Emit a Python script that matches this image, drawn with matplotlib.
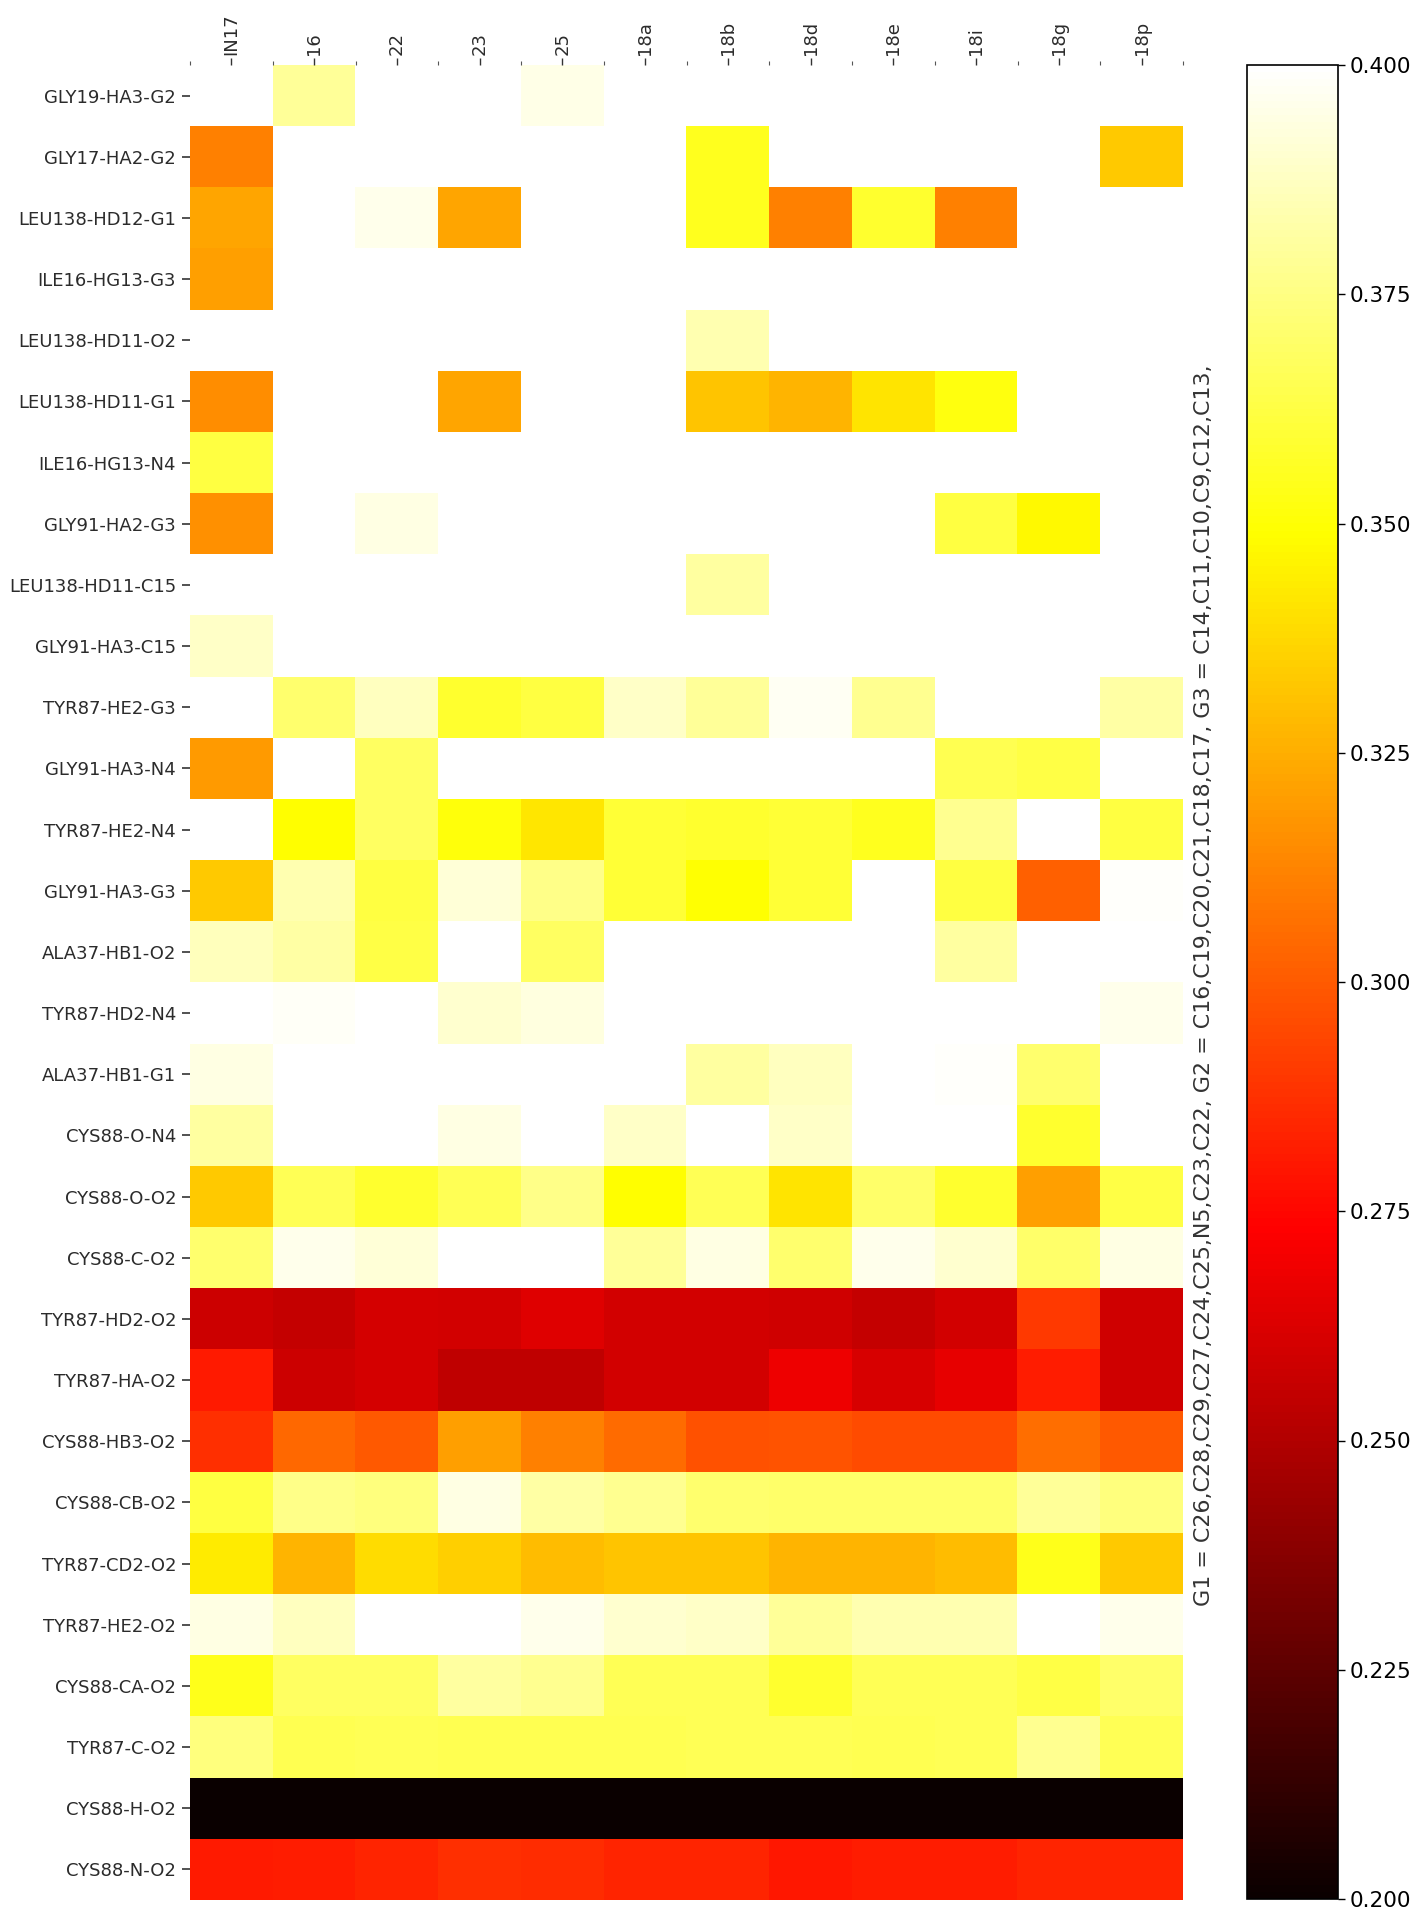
import numpy as np
import matplotlib
matplotlib.use('Agg')
import matplotlib.pyplot as plt

nan = np.nan

columns = ['IN17', '16', '22', '23', '25', '18a', '18b', '18d', '18e', '18i', '18g', '18p']
rows = ['GLY19-HA3-G2', 'GLY17-HA2-G2', 'LEU138-HD12-G1', 'ILE16-HG13-G3', 'LEU138-HD11-O2',
        'LEU138-HD11-G1', 'ILE16-HG13-N4', 'GLY91-HA2-G3', 'LEU138-HD11-C15', 'GLY91-HA3-C15',
        'TYR87-HE2-G3', 'GLY91-HA3-N4', 'TYR87-HE2-N4', 'GLY91-HA3-G3', 'ALA37-HB1-O2',
        'TYR87-HD2-N4', 'ALA37-HB1-G1', 'CYS88-O-N4', 'CYS88-O-O2', 'CYS88-C-O2',
        'TYR87-HD2-O2', 'TYR87-HA-O2', 'CYS88-HB3-O2', 'CYS88-CB-O2', 'TYR87-CD2-O2',
        'TYR87-HE2-O2', 'CYS88-CA-O2', 'TYR87-C-O2', 'CYS88-H-O2', 'CYS88-N-O2']

# one list per row, columns in the order above (nan = no contact)
gly19_ha3_g2 = [nan, 0.379, nan, nan, 0.395, nan, nan, nan, nan, nan, nan, nan]
gly17_ha2_g2 = [0.311, nan, nan, nan, nan, nan, 0.355, nan, nan, nan, nan, 0.333]
leu138_hd12_g1 = [0.322, nan, 0.396, 0.322, nan, nan, 0.355, 0.311, 0.358, 0.311, nan, nan]
ile16_hg13_g3 = [0.321, nan, nan, nan, nan, nan, nan, nan, nan, nan, nan, nan]
leu138_hd11_o2 = [nan, nan, nan, nan, nan, nan, 0.384, nan, nan, nan, nan, nan]
leu138_hd11_g1 = [0.315, nan, nan, 0.322, nan, nan, 0.332, 0.327, 0.341, 0.352, nan, nan]
ile16_hg13_n4 = [0.362, nan, nan, nan, nan, nan, nan, nan, nan, nan, nan, nan]
gly91_ha2_g3 = [0.316, nan, 0.394, nan, nan, nan, nan, nan, nan, 0.362, 0.347, nan]
leu138_hd11_c15 = [nan, nan, nan, nan, nan, nan, 0.381, nan, nan, nan, nan, nan]
gly91_ha3_c15 = [0.389, nan, nan, nan, nan, nan, nan, nan, nan, nan, nan, nan]
tyr87_he2_g3 = [nan, 0.371, 0.387, 0.358, 0.362, 0.389, 0.379, 0.397, 0.378, nan, nan, 0.382]
gly91_ha3_n4 = [0.319, nan, 0.368, nan, nan, nan, nan, nan, nan, 0.365, 0.363, nan]
tyr87_he2_n4 = [nan, 0.349, 0.368, 0.351, 0.342, 0.360, 0.358, 0.360, 0.355, 0.378, nan, 0.362]
gly91_ha3_g3 = [0.333, 0.384, 0.362, 0.392, 0.376, 0.360, 0.350, 0.360, nan, 0.362, 0.302, 0.399]
ala37_hb1_o2 = [0.386, 0.382, 0.363, nan, 0.368, nan, nan, nan, nan, 0.381, nan, nan]
tyr87_hd2_n4 = [nan, 0.398, nan, 0.390, 0.393, nan, nan, nan, nan, nan, nan, 0.396]
ala37_hb1_g1 = [0.394, nan, nan, nan, nan, nan, 0.381, 0.387, nan, 0.399, 0.371, nan]
cys88_o_n4 = [0.381, nan, nan, 0.394, nan, 0.389, nan, 0.389, nan, nan, 0.358, nan]
cys88_o_o2 = [0.333, 0.366, 0.358, 0.366, 0.376, 0.349, 0.366, 0.341, 0.370, 0.358, 0.321, 0.363]
cys88_c_o2 = [0.371, 0.396, 0.392, nan, nan, 0.379, 0.394, 0.371, 0.396, 0.390, 0.370, 0.394]
tyr87_hd2_o2 = [0.258, 0.256, 0.2605, 0.260, 0.264, 0.2595, 0.260, 0.259, 0.256, 0.2595, 0.290, 0.259]
tyr87_ha_o2 = [0.281, 0.258, 0.2605, 0.254, 0.254, 0.260, 0.2595, 0.268, 0.261, 0.266, 0.282, 0.259]
cys88_hb3_o2 = [0.287, 0.304, 0.300, 0.321, 0.311, 0.305, 0.297, 0.298, 0.296, 0.296, 0.306, 0.300]
cys88_cb_o2 = [0.362, 0.376, 0.374, 0.394, 0.382, 0.378, 0.371, 0.370, 0.370, 0.370, 0.379, 0.374]
tyr87_cd2_o2 = [0.3435, 0.327, 0.339, 0.335, 0.329, 0.332, 0.332, 0.327, 0.327, 0.329, 0.354, 0.333]
tyr87_he2_o2 = [0.394, 0.387, nan, nan, 0.396, 0.390, 0.389, 0.379, 0.384, 0.384, nan, 0.396]
cys88_ca_o2 = [0.354, 0.368, 0.368, 0.381, 0.378, 0.366, 0.366, 0.358, 0.366, 0.366, 0.363, 0.370]
tyr87_c_o2 = [0.374, 0.365, 0.366, 0.365, 0.365, 0.365, 0.366, 0.366, 0.365, 0.366, 0.378, 0.366]
cys88_h_o2 = [0.200, 0.200, 0.200, 0.200, 0.200, 0.200, 0.200, 0.200, 0.200, 0.200, 0.200, 0.200]
cys88_n_o2 = [0.281, 0.282, 0.2837, 0.287, 0.286, 0.284, 0.284, 0.280, 0.282, 0.282, 0.284, 0.284]

dat = np.array([gly19_ha3_g2, gly17_ha2_g2, leu138_hd12_g1, ile16_hg13_g3, leu138_hd11_o2,
                leu138_hd11_g1, ile16_hg13_n4, gly91_ha2_g3, leu138_hd11_c15, gly91_ha3_c15,
                tyr87_he2_g3, gly91_ha3_n4, tyr87_he2_n4, gly91_ha3_g3, ala37_hb1_o2,
                tyr87_hd2_n4, ala37_hb1_g1, cys88_o_n4, cys88_o_o2, cys88_c_o2,
                tyr87_hd2_o2, tyr87_ha_o2, cys88_hb3_o2, cys88_cb_o2, tyr87_cd2_o2,
                tyr87_he2_o2, cys88_ca_o2, tyr87_c_o2, cys88_h_o2, cys88_n_o2])

groups = 'G1 = C26,C28,C29,C27,C24,C25,N5,C23,C22, G2 = C16,C19,C20,C21,C18,C17, G3 = C14,C11,C10,C9,C12,C13,'

W, H = 1421, 1920
fig = plt.figure(figsize=(W / 100, H / 100), dpi=100)
ax = fig.add_axes([190 / W, 1 - 1900 / H, (1183 - 190) / W, (1900 - 65) / H])

cmap = plt.get_cmap('hot').copy()
cmap.set_bad('white')
img = ax.imshow(np.ma.masked_invalid(dat), cmap=cmap, vmin=0.2, vmax=0.4,
                aspect='auto', interpolation='nearest')

for s in ax.spines.values():
    s.set_visible(False)

ax.xaxis.tick_top()
ax.set_xticks(range(len(columns)))
ax.set_xticklabels(columns, rotation=90, fontsize=13, color='#2b2b2b')
ax.set_xticks(np.arange(-0.5, len(columns), 1), minor=True)
ax.set_yticks(range(len(rows)))
ax.set_yticklabels(rows, fontsize=13, color='#2b2b2b')
ax.tick_params(axis='x', which='major', length=5, width=1, pad=2, color='#333333')
ax.tick_params(axis='x', which='minor', length=3, width=0.8, color='#555555')
ax.tick_params(axis='y', which='major', length=6, width=1.2, pad=4, color='#333333')

cax = fig.add_axes([1247 / W, 1 - 1899 / H, 91 / W, (1899 - 65) / H])
cb = fig.colorbar(img, cax=cax)
cb.set_ticks([0.2, 0.225, 0.25, 0.275, 0.3, 0.325, 0.35, 0.375, 0.4])
cb.ax.set_yticklabels([f'{t:.3f}' for t in cb.get_ticks()])
cb.ax.tick_params(labelsize=15.5, length=5, width=1)
cb.outline.set_linewidth(1.2)

fig.text(1204 / W, 1 - 985 / H, groups, rotation=90, ha='center', va='center',
         fontsize=15.9, color='#333333')

fig.savefig('out.png', dpi=100)
